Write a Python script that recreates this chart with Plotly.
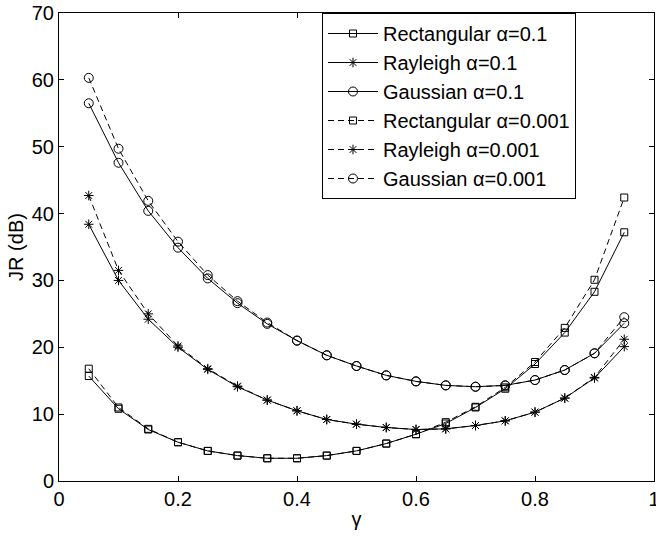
import plotly.graph_objects as go

gamma = [0.05, 0.10, 0.15, 0.20, 0.25, 0.30, 0.35, 0.40, 0.45, 0.50,
         0.55, 0.60, 0.65, 0.70, 0.75, 0.80, 0.85, 0.90, 0.95]

rect_01 = [15.7, 10.8, 7.7, 5.8, 4.5, 3.8, 3.4, 3.4, 3.8, 4.5,
           5.6, 7.0, 8.6, 11.0, 13.8, 17.5, 22.2, 28.3, 37.2]
rayl_01 = [38.4, 30.0, 24.2, 20.0, 16.7, 14.1, 12.1, 10.5, 9.2, 8.5,
           8.0, 7.7, 7.8, 8.3, 9.0, 10.3, 12.4, 15.4, 20.1]
gaus_01 = [56.5, 47.6, 40.4, 34.9, 30.3, 26.6, 23.5, 21.0, 18.8, 17.2,
           15.8, 14.9, 14.3, 14.1, 14.3, 15.1, 16.6, 19.1, 23.6]
rect_0001 = [16.8, 11.0, 7.8, 5.8, 4.5, 3.8, 3.4, 3.4, 3.8, 4.5,
             5.6, 7.0, 8.8, 11.1, 14.0, 17.8, 22.9, 30.1, 42.4]
rayl_0001 = [42.7, 31.5, 25.0, 20.2, 16.8, 14.2, 12.1, 10.5, 9.2, 8.5,
             8.0, 7.7, 7.8, 8.3, 9.0, 10.3, 12.4, 15.5, 21.2]
gaus_0001 = [60.3, 49.7, 41.9, 35.8, 30.8, 26.9, 23.7, 21.0, 18.8, 17.2,
             15.8, 14.9, 14.3, 14.1, 14.3, 15.1, 16.6, 19.1, 24.5]

x_ticks = [0, 0.2, 0.4, 0.6, 0.8, 1]
x_tick_text = ["0", "0.2", "0.4", "0.6", "0.8", "1"]

names = ["Rectangular α=0.1", "Rayleigh α=0.1", "Gaussian α=0.1",
         "Rectangular α=0.001", "Rayleigh α=0.001", "Gaussian α=0.001"]
series = [rect_01, rayl_01, gaus_01, rect_0001, rayl_0001, gaus_0001]
symbols = ["square-open", "asterisk-open", "circle-open"] * 2
sizes = [7, 8, 9] * 2
dashes = ["solid"] * 3 + ["6px,4px"] * 3

fig = go.Figure()
for name, ys, sym, sz, dash in zip(names, series, symbols, sizes, dashes):
    fig.add_trace(go.Scatter(
        x=gamma, y=ys, name=name, mode="lines+markers",
        line=dict(color="black", width=1, dash=dash),
        marker=dict(symbol=sym, size=sz, color="black",
                    line=dict(color="black", width=1)),
    ))

axis_common = dict(
    showline=True, linecolor="black", linewidth=1, mirror="ticks",
    ticks="inside", ticklen=5, tickcolor="black", showgrid=False,
    zeroline=False, tickfont=dict(size=20, color="black"),
    automargin=False, ticklabeloverflow="allow",
)
fig.update_xaxes(range=[0, 1], tickvals=x_ticks, ticktext=x_tick_text,
                 title=dict(text="γ", font=dict(size=20, color="black"), standoff=2),
                 **axis_common)
fig.update_yaxes(range=[0, 70], dtick=10,
                 title=dict(text="JR (dB)", font=dict(size=20, color="black"), standoff=2),
                 **axis_common)

fig.update_layout(
    width=656, height=536,
    margin=dict(l=59, r=2, t=13, b=55),
    plot_bgcolor="white", paper_bgcolor="white",
    font=dict(family="Liberation Sans, Arial, sans-serif", color="black"),
    legend=dict(x=0.442, y=1.0, xanchor="left", yanchor="top",
                bordercolor="black", borderwidth=1, bgcolor="white",
                font=dict(size=20, color="black"), tracegroupgap=0,
                itemwidth=50),
    showlegend=True,
)

fig.write_html("out.html",
               config={"displayModeBar": False},
               post_script="document.body.style.margin='0px';"
                           "document.body.style.overflow='hidden';")
